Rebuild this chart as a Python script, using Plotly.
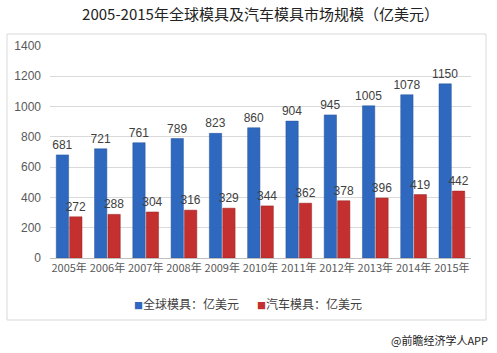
import plotly.graph_objects as go

years = ["2005年", "2006年", "2007年", "2008年", "2009年", "2010年",
         "2011年", "2012年", "2013年", "2014年", "2015年"]
global_mold = [681, 721, 761, 789, 823, 860, 904, 945, 1005, 1078, 1150]
auto_mold = [272, 288, 304, 316, 329, 344, 362, 378, 396, 419, 442]
series_names = ["全球模具：亿美元", "汽车模具：亿美元"]
series_colors = ["#2F69BF", "#C3302F"]
title_text = "2005-2015年全球模具及汽车模具市场规模（亿美元）"
source_text = "@前瞻经济学人APP"

W, H = 497, 353
ML, MR, MT, MB = 50, 26, 46, 95
pw = W - ML - MR
ph = H - MT - MB

def px_x(p):
    return (p - ML) / pw

def px_y(p):
    return (H - MB - p) / ph

fig = go.Figure()
fig.add_trace(go.Bar(
    x=years, y=global_mold, name=series_names[0],
    marker=dict(color=series_colors[0], line=dict(color="#24539A", width=0.5)),
    text=[str(v) for v in global_mold], textposition="outside",
    constraintext="none",
    textfont=dict(size=12, color="#404040", family="Liberation Sans"),
    cliponaxis=False,
))
fig.add_trace(go.Bar(
    x=years, y=auto_mold, name=series_names[1],
    marker=dict(color=series_colors[1], line=dict(color="#98231F", width=0.5)),
    text=[str(v) for v in auto_mold], textposition="outside",
    constraintext="none",
    textfont=dict(size=12, color="#404040", family="Liberation Sans"),
    cliponaxis=False,
))

legend_annots = []
for name, color, cx in zip(series_names, series_colors, [186, 309]):
    legend_annots.append(dict(
        text=f'<span style="color:{color};font-size:9px">■</span>{name}',
        xref="paper", yref="paper", x=px_x(cx), y=px_y(303),
        xanchor="center", yanchor="middle", showarrow=False,
        font=dict(size=12, color="#404040", family="Noto Sans CJK SC")))

fig.update_layout(
    width=W, height=H,
    margin=dict(l=ML, r=MR, t=MT, b=MB),
    paper_bgcolor="white", plot_bgcolor="white",
    barmode="group", bargap=0.3, bargroupgap=0.08,
    title=dict(text=title_text, x=0.5, xref="paper", xanchor="center",
               y=1 - 15 / H, yref="container", yanchor="middle",
               font=dict(size=15, color="#222222", family="Noto Sans CJK SC")),
    font=dict(family="Liberation Sans", color="#595959"),
    showlegend=False,
    xaxis=dict(showline=True, linecolor="#BFBFBF", linewidth=1,
               ticks="",
               tickfont=dict(size=11, color="#595959", family="Noto Sans CJK SC"),
               showgrid=False, fixedrange=True),
    yaxis=dict(range=[0, 1400], dtick=200, showgrid=True, gridcolor="#D9D9D9",
               gridwidth=1, zeroline=False, showline=False,
               tickfont=dict(size=12, color="#595959", family="Liberation Sans"),
               ticklabelstandoff=8),
    shapes=[dict(type="rect", xref="paper", yref="paper",
                 x0=px_x(7), x1=px_x(486), y0=px_y(320), y1=px_y(34),
                 line=dict(color="#D9D9D9", width=1), fillcolor="rgba(0,0,0,0)",
                 layer="below")],
    annotations=legend_annots + [dict(text=source_text, xref="paper", yref="paper",
                      x=px_x(490), y=px_y(340), xanchor="right", yanchor="middle",
                      showarrow=False,
                      font=dict(size=11, color="#222222", family="Noto Sans CJK SC"))],
)

fig.write_html("out.html")
